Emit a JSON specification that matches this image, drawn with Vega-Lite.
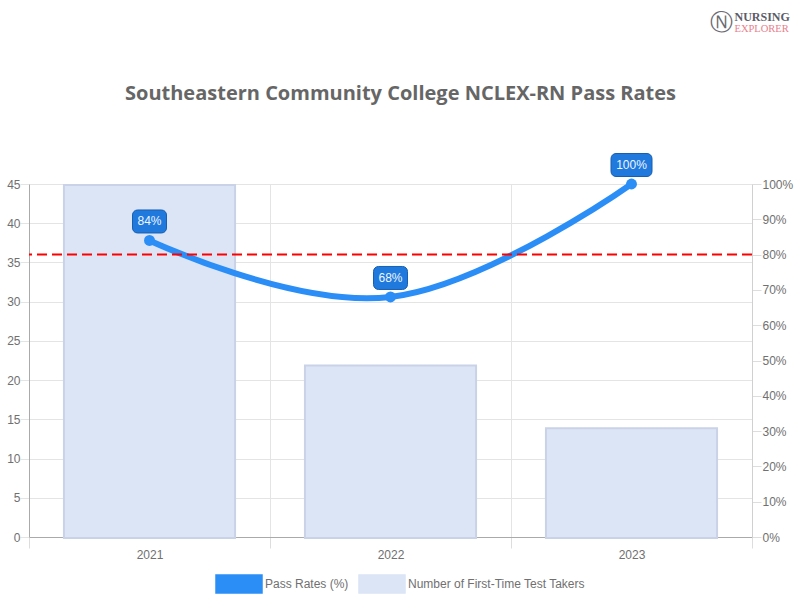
{
"$schema":"https://vega.github.io/schema/vega-lite/v6.json",
"width":723,"height":353,
"autosize":{"type":"none"},
"padding":{"left":29,"top":184,"right":48,"bottom":63},
"background":"white",
"title":{"text":"Southeastern Community College NCLEX-RN Pass Rates","font":"Open Sans","fontSize":20,"fontWeight":"bold","color":"#666666","anchor":"middle","dx":10,"offset":-110,"baseline":"alphabetic"},
"config":{"view":{"stroke":null},"font":"Liberation Sans"},
"data":{"values":[
{"year":"2021","takers":45,"rate":84,"label":"84%"},
{"year":"2022","takers":22,"rate":68,"label":"68%"},
{"year":"2023","takers":14,"rate":100,"label":"100%"}
]},
"encoding":{"x":{"field":"year","type":"nominal","scale":{"paddingInner":0,"paddingOuter":0},
"axis":{"title":"Ⓝ","titleX":692,"titleY":-515,"titleAlign":"center","titleBaseline":"middle","titleFont":"DejaVu Sans","titleFontSize":23,"titleFontWeight":"normal","titleColor":"#6a6a72","labelAngle":0,"tickBand":"extent","grid":true,"gridColor":"#e4e4e4","tickColor":"#dddddd","tickSize":11,"labelColor":"#707070","labelFontSize":12,"labelPadding":1,"domainColor":"#aaaaaa","domain":true}}},
"layer":[
{"mark":{"type":"bar","width":{"band":0.71},"stroke":"#c9d2e6","strokeWidth":2,"yOffset":1,"y2Offset":-1},
"encoding":{"y":{"field":"takers","type":"quantitative","scale":{"domain":[0,45],"nice":false},
"axis":{"title":"NURSING","titleAngle":0,"titleX":705,"titleY":-164,"titleAlign":"left","titleBaseline":"alphabetic","titleFont":"Liberation Serif","titleFontSize":12,"titleFontWeight":"bold","titleColor":"#5c5c68","values":[0,5,10,15,20,25,30,35,40,45],"grid":true,"gridColor":"#e4e4e4","ticks":true,"tickColor":"#e4e4e4","tickSize":9,"labelPadding":0,"labelColor":"#707070","labelFontSize":12,"domainColor":"#aaaaaa"}},
"color":{"datum":"Number of First-Time Test Takers","type":"nominal",
"scale":{"domain":["Pass Rates (%)","Number of First-Time Test Takers"],"range":["#2b8ef7","#dce5f6"]},
"legend":{"title":null,"orient":"none","legendX":186,"legendY":376,"direction":"horizontal","columns":2,"symbolType":"M-1,-0.39H1V0.39H-1Z","symbolSize":2116,"symbolOpacity":1,"labelFontSize":12,"labelColor":"#707070","labelOffset":2,"labelLimit":300,"columnPadding":7,
"encode":{"symbols":{"update":{"shape":{"signal":"datum.value=='Pass Rates (%)'?'M-1,-0.39H1V0.39H-1Z':'M-0.87,-0.3H0.87V0.3H-0.87Z'"},"stroke":{"signal":"datum.value=='Pass Rates (%)'?'#2b8ef7':'#d0d6e6'"},"strokeWidth":{"value":1.5}},"enter":{"shape":{"signal":"datum.value=='Pass Rates (%)'?'M-1,-0.39H1V0.39H-1Z':'M-0.87,-0.3H0.87V0.3H-0.87Z'"}},"shape":{"condition":{"test":"datum.value!='Pass Rates (%)'","value":"M-0.87,-0.3H0.87V0.3H-0.87Z"},"value":"M-1,-0.39H1V0.39H-1Z"},"stroke":{"condition":{"test":"datum.value!='Pass Rates (%)'","value":"#d0d6e6"},"value":"#2b8ef7"},"strokeWidth":{"value":1.5}}}}}}},
{"layer":[
{"mark":{"type":"line","interpolate":"cardinal","tension":-0.2,"strokeWidth":6,"clip":false},
"encoding":{"y":{"field":"rate","type":"quantitative","scale":{"domain":[0,100],"nice":false},
"axis":{"orient":"right","title":"EXPLORER","titleAngle":0,"titleX":-18,"titleY":-153,"titleAlign":"left","titleBaseline":"alphabetic","titleFont":"Liberation Serif","titleFontSize":10.5,"titleFontWeight":"normal","titleColor":"#e8808c","values":[0,10,20,30,40,50,60,70,80,90,100],"tickCount":11,"labelOverlap":false,"labelExpr":"datum.value+'%'","grid":false,"domain":true,"domainColor":"#d0d0d0","ticks":true,"tickColor":"#dddddd","tickSize":9,"labelPadding":1,"labelColor":"#707070","labelFontSize":12}},
"color":{"datum":"Pass Rates (%)","type":"nominal"}}},
{"data":{"values":[{"benchmark":80}]},"mark":{"type":"rule","stroke":"#ff0000","strokeWidth":2,"strokeDash":[10,5]},"encoding":{"x":null,"y":{"field":"benchmark","type":"quantitative"}}},
{"mark":{"type":"point","filled":true,"size":120,"opacity":1,"color":"#2b8ef7"},"encoding":{"y":{"field":"rate","type":"quantitative"}}},
{"transform":[{"filter":"datum.rate<100"}],"mark":{"type":"rect","width":34,"height":23,"cornerRadius":5,"fill":"#2079dd","stroke":"#185fb0","strokeWidth":1,"yOffset":-19},"encoding":{"y":{"field":"rate","type":"quantitative"}}},
{"transform":[{"filter":"datum.rate==100"}],"mark":{"type":"rect","width":41,"height":23,"cornerRadius":5,"fill":"#2079dd","stroke":"#185fb0","strokeWidth":1,"yOffset":-19},"encoding":{"y":{"field":"rate","type":"quantitative"}}},
{"mark":{"type":"text","color":"#eef6ff","fontSize":12,"baseline":"middle","yOffset":-19},"encoding":{"y":{"field":"rate","type":"quantitative"},"text":{"field":"label"}}}
]}
],
"resolve":{"scale":{"y":"independent"}}
}
